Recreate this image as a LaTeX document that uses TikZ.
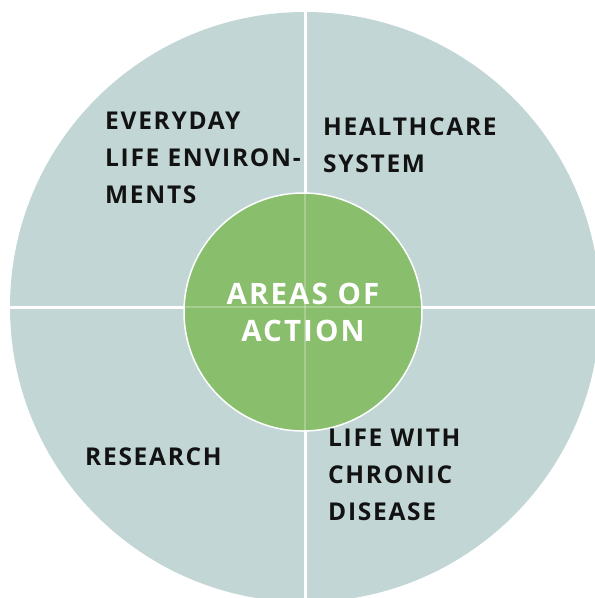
\documentclass[tikz,border=0pt]{standalone}
\usepackage{fontspec}
\setsansfont[LetterSpace=7]{Open Sans}
\definecolor{wheelgrey}{RGB}{193,214,213}
\definecolor{hubgreen}{RGB}{136,190,108}
\begin{document}
\begin{tikzpicture}[x=1pt, y=-1pt, font=\sffamily\bfseries,
    areatext/.style={anchor=north west, inner sep=0pt, align=left, text=black!93,
      font=\sffamily\bfseries\fontsize{24.5}{37}\selectfont},
    divider/.style={white, line width=3pt}]
  \clip (0,0) rectangle (595,598);
  \node[circle, fill=wheelgrey, minimum size=590pt, inner sep=0pt] (wheel) at (305,307) {};
  \draw[divider] (wheel.north) -- (wheel.south);
  \draw[divider] (wheel.west) -- (wheel.east);
  \node[circle, fill=hubgreen, draw=white, line width=1.5pt, minimum size=238pt, inner sep=0pt,
    text=white, align=center, font=\sffamily\bfseries\fontsize{29.5}{37}\selectfont] (hub) at (303,312) {AREAS OF\\ACTION};
  \draw[white, opacity=0.25, line width=2pt] (wheel.center |- hub.north) -- (wheel.center |- hub.south);
  \draw[white, opacity=0.25, line width=2pt] (wheel.center -| hub.west) -- (wheel.center -| hub.east);
  \foreach \pos/\name/\txt in {(105,112)/everyday/EVERYDAY\\LIFE ENVIRON-\\MENTS,
      (323,118)/health/HEALTHCARE\\SYSTEM,
      (85,448)/research/RESEARCH,
      (328,429)/chronic/LIFE WITH\\CHRONIC\\DISEASE}
    \node[areatext] (\name) at \pos {\txt};
\end{tikzpicture}
\end{document}
